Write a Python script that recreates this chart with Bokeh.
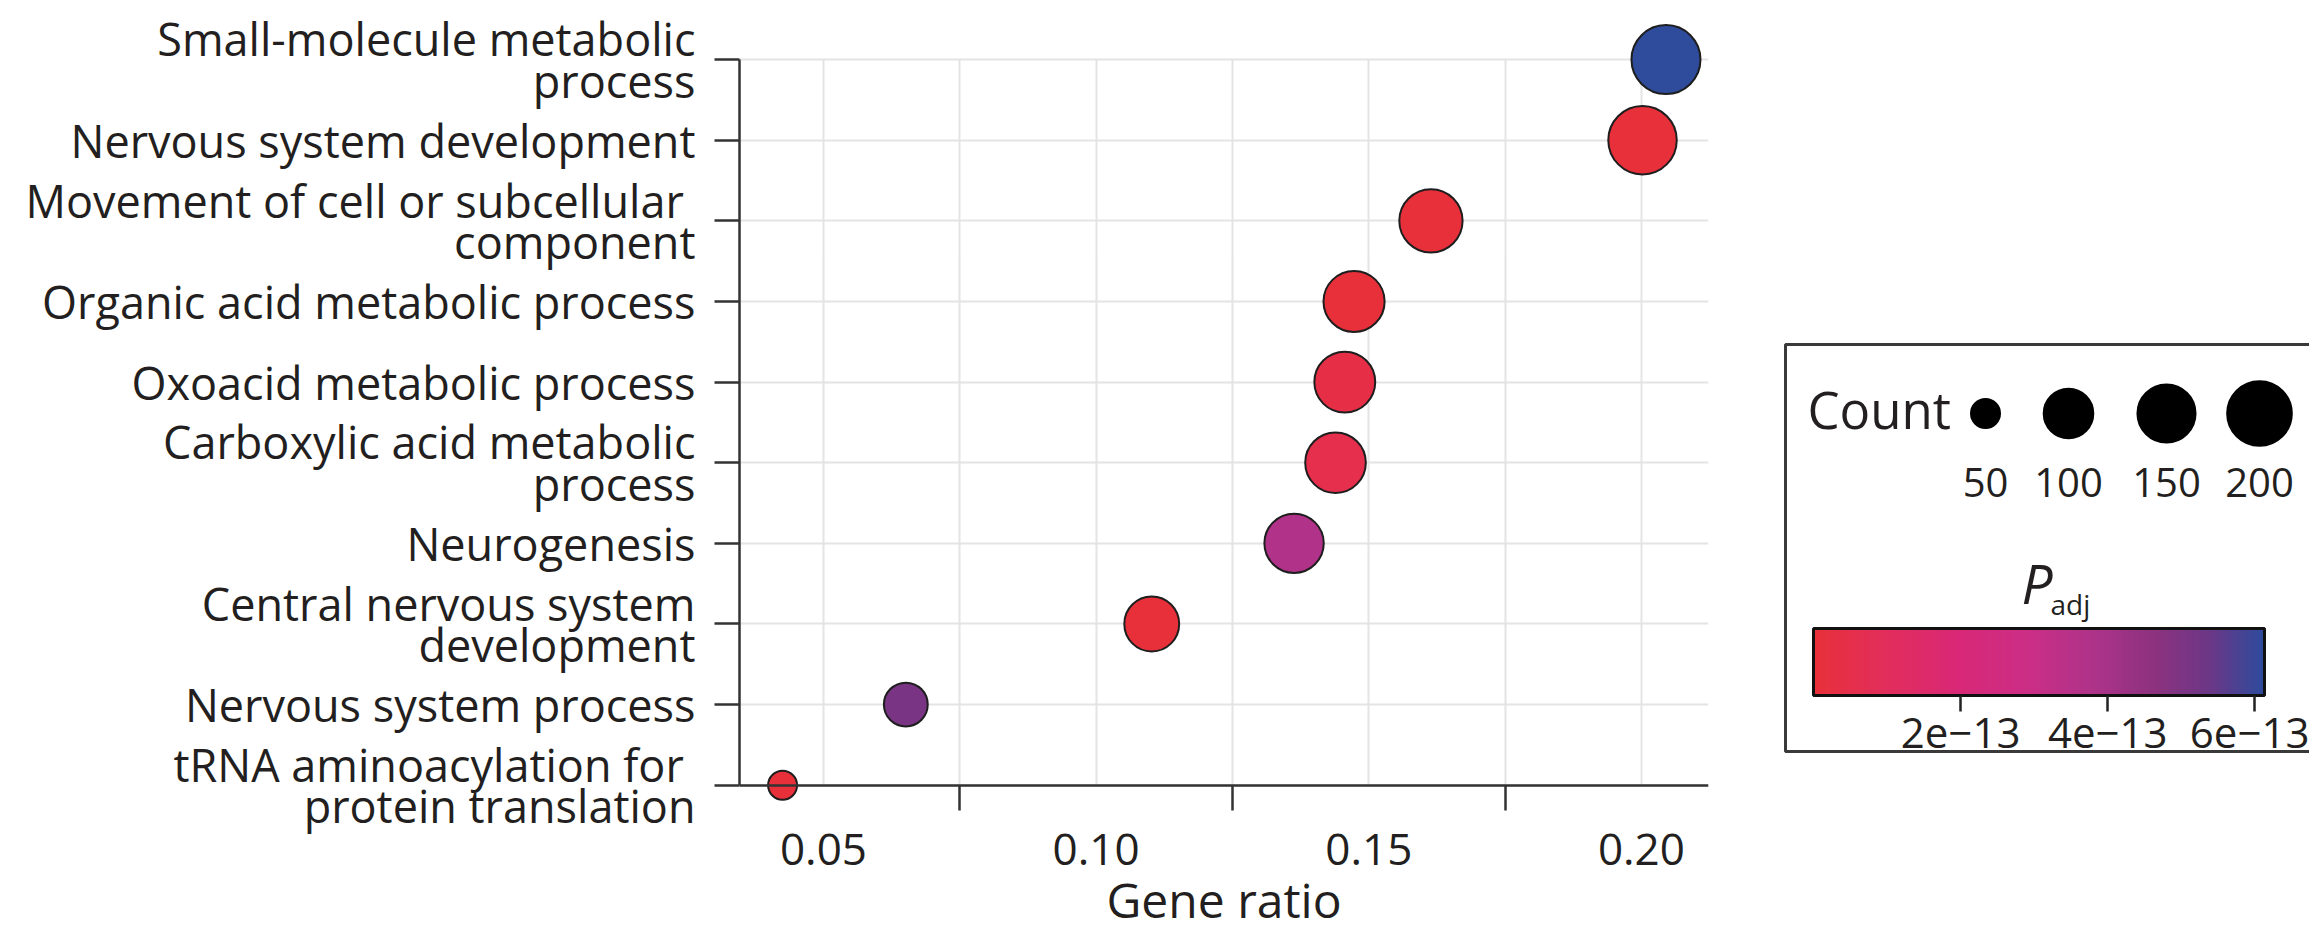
import math
from bokeh.plotting import figure
from bokeh.models import (Range1d, FixedTicker, ColumnDataSource, LinearColorMapper,
                          ColorBar, Label, CustomJSTickFormatter, PrintfTickFormatter, Grid)
from bokeh.layouts import row
from bokeh.embed import file_html
from bokeh.resources import INLINE

# ---------------- data ----------------
terms = [
    "Small-molecule metabolic\nprocess",
    "Nervous system development",
    "Movement of cell or subcellular \ncomponent",
    "Organic acid metabolic process",
    "Oxoacid metabolic process",
    "Carboxylic acid metabolic\nprocess",
    "Neurogenesis",
    "Central nervous system\ndevelopment",
    "Nervous system process",
    "tRNA aminoacylation for \nprotein translation",
]
gene_ratio = [0.2045, 0.2002, 0.1614, 0.1473, 0.1456, 0.1439, 0.1363, 0.1102, 0.0651, 0.0425]
counts = [239, 234, 189, 172, 170, 168, 159, 129, 76, 50]
p_adj = [6.13e-13, 1e-16, 1e-16, 1e-16, 0.35e-13, 0.55e-13, 3.7e-13, 1e-16, 5.1e-13, 1e-16]
legend_counts = [50, 100, 150, 200]
cbar_ticks = [2e-13, 4e-13, 6e-13]
x_ticks = [0.05, 0.10, 0.15, 0.20]
x_minor_ticks = [0.075, 0.125, 0.175]

FONT = "Open Sans"
TXT = "#231F20"
AXC = "#333333"
GRIDC = "#E4E4E4"

# ---------------- palette (gradient styling) ----------------
anchors = [(0.00, "#E8303A"), (0.15, "#E22E5A"), (0.32, "#D92877"), (0.48, "#CB2E86"),
           (0.62, "#AE3389"), (0.76, "#8C327F"), (0.88, "#6C3787"), (1.00, "#2E4B9C")]


def _rgb(h):
    return tuple(int(h[i:i + 2], 16) for i in (1, 3, 5))


palette = []
for k in range(256):
    t = k / 255
    for (t0, c0), (t1, c1) in zip(anchors[:-1], anchors[1:]):
        if t0 <= t <= t1:
            f = (t - t0) / (t1 - t0)
            a, b = _rgb(c0), _rgb(c1)
            palette.append("#%02x%02x%02x" % tuple(round(a[i] + (b[i] - a[i]) * f) for i in range(3)))
            break

mapper = LinearColorMapper(palette=palette, low=min(p_adj), high=max(p_adj))

cmin, cmax = min(counts), max(counts)


def diam(c):
    return 29 + 40 * math.sqrt(max(c - cmin, 0) / (cmax - cmin))


n = len(terms)
yvals = [n - i for i in range(n)]  # top row -> n, bottom row -> 1

src = ColumnDataSource(dict(x=gene_ratio, y=yvals, count=counts, padj=p_adj,
                            size=[diam(c) for c in counts]))

# ---------------- layout constants ----------------
H = 938
TOP = 20
PW = 1753
LW = 556
X0, X1 = 0.0346, 0.2123
ROW_PX = 80.62
ROW1_PX, ROWN_PX = 59.1, 784.7   # pixel rows of first / last category

# ---------------- main plot ----------------
# frame runs down to the canvas bottom so the x axis (drawn on the last row) keeps its labels
p = figure(width=PW, height=H, output_backend="svg", toolbar_location=None,
           x_range=Range1d(X0, X1),
           y_range=Range1d(1 - (H - ROWN_PX) / ROW_PX, n + (ROW1_PX - TOP) / ROW_PX),
           min_border_left=739, min_border_right=45, min_border_top=TOP, min_border_bottom=0)
p.outline_line_color = None
p.background_fill_color = "white"

# grid
p.xgrid.ticker = FixedTicker(ticks=x_ticks, minor_ticks=x_minor_ticks)
p.xgrid.grid_line_color = GRIDC
p.xgrid.grid_line_width = 2
p.xgrid.minor_grid_line_color = GRIDC
p.xgrid.minor_grid_line_width = 2
p.ygrid.ticker = FixedTicker(ticks=yvals)
p.ygrid.grid_line_color = GRIDC
p.ygrid.grid_line_width = 2
if "cross_bounds" in Grid.properties():
    p.xgrid.cross_bounds = (1, n)

# y axis
p.yaxis.ticker = FixedTicker(ticks=yvals)
p.yaxis.major_label_overrides = {yv: t for yv, t in zip(yvals, terms)}
p.yaxis.bounds = (1, n)
p.yaxis.axis_line_color = AXC
p.yaxis.axis_line_width = 2.5
p.yaxis.major_tick_line_color = AXC
p.yaxis.major_tick_line_width = 2.5
p.yaxis.major_tick_out = 25
p.yaxis.major_tick_in = 0
p.yaxis.minor_tick_line_color = None
p.yaxis.major_label_standoff = 19
p.yaxis.major_label_text_font = FONT
p.yaxis.major_label_text_font_size = "45px"
p.yaxis.major_label_text_color = TXT
p.yaxis.major_label_text_line_height = 0.68

# x axis, drawn on the bottom row
p.xaxis.fixed_location = 1
p.xaxis.ticker = FixedTicker(ticks=x_ticks, minor_ticks=x_minor_ticks)
p.xaxis.formatter = PrintfTickFormatter(format="%.2f")
p.xaxis.axis_line_color = AXC
p.xaxis.axis_line_width = 2.5
p.xaxis.major_tick_line_color = None
p.xaxis.major_tick_out = 25
p.xaxis.major_tick_in = 0
p.xaxis.minor_tick_line_color = AXC
p.xaxis.minor_tick_line_width = 2.5
p.xaxis.minor_tick_in = 0
p.xaxis.minor_tick_out = 25
p.xaxis.major_label_standoff = 24
p.xaxis.major_label_text_font = FONT
p.xaxis.major_label_text_font_size = "44px"
p.xaxis.major_label_text_color = TXT
p.xaxis.axis_label = "Gene ratio"
p.xaxis.axis_label_standoff = -2
p.xaxis.axis_label_text_font = FONT
p.xaxis.axis_label_text_font_size = "48px"
p.xaxis.axis_label_text_font_style = "normal"
p.xaxis.axis_label_text_color = TXT

p.scatter(x="x", y="y", size="size", source=src, marker="circle",
          fill_color={"field": "padj", "transform": mapper}, line_color="#1e1e1e", line_width=2)

# ---------------- legend panel (data units = pixels) ----------------
leg = figure(width=LW, height=H, output_backend="svg", toolbar_location=None,
             x_range=Range1d(0, LW), y_range=Range1d(H, TOP),
             x_axis_type=None, y_axis_type=None,
             min_border_left=0, min_border_right=0, min_border_top=TOP, min_border_bottom=0)
leg.outline_line_color = None
leg.xgrid.visible = False
leg.ygrid.visible = False

leg.quad(left=[32], right=[LW + 40], top=[344], bottom=[751], fill_color=None,
         line_color="#3a3a3a", line_width=3)

leg.add_layout(Label(x=54, y=408, text="Count", text_align="left", text_baseline="middle",
                     text_font=FONT, text_font_size="51px", text_color=TXT))

legend_x = [232, 315, 413, 506]
leg.scatter(x=legend_x, y=[413] * len(legend_counts), size=[diam(c) for c in legend_counts],
            marker="circle", fill_color="black", line_color="black", line_width=2)
for lx, lc in zip(legend_x, legend_counts):
    leg.add_layout(Label(x=lx, y=482, text=str(lc), text_align="center", text_baseline="middle",
                         text_font=FONT, text_font_size="40px", text_color=TXT))

leg.add_layout(Label(x=268, y=582, text="P", text_align="left", text_baseline="alphabetic",
                     text_font=FONT, text_font_style="italic", text_font_size="55px", text_color=TXT))
leg.add_layout(Label(x=297, y=603, text="adj", text_align="left", text_baseline="alphabetic",
                     text_font=FONT, text_font_size="28px", text_color=TXT))

# colour bar: location is measured from the frame's bottom-left corner
cbar = ColorBar(color_mapper=mapper, orientation="horizontal", width=451, height=67,
                location=(60, H - 750), padding=0, title=None,
                ticker=FixedTicker(ticks=cbar_ticks),
                formatter=CustomJSTickFormatter(code="return Math.round(tick * 1e13) + 'e\u221213';"),
                major_tick_out=16, major_tick_in=0, major_tick_line_color="#222222",
                major_tick_line_width=2.5, minor_tick_line_color=None,
                bar_line_color="#111111", bar_line_width=3,
                label_standoff=6, major_label_text_font=FONT, major_label_text_font_size="42px",
                major_label_text_color=TXT, border_line_color=None, background_fill_alpha=0)
leg.add_layout(cbar)

layout = row(p, leg)
open("out.html", "w").write(file_html(layout, INLINE))
